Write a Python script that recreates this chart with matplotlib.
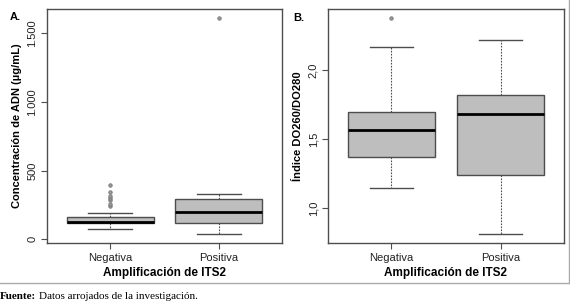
import matplotlib
matplotlib.use("Agg")
import matplotlib.pyplot as plt
from matplotlib.lines import Line2D

grupos = ["Negativa", "Positiva"]

# A. concentracion de ADN (ug/mL)
adn_min = [78, 36]
adn_q1 = [116, 116]
adn_med = [124, 197]
adn_q3 = [160, 291]
adn_max = [194, 333]
adn_atipicos = [[245, 260, 284, 301, 313, 344, 398], [1613]]
adn_ticks = [0, 500, 1000, 1500]
adn_ticklabels = ["0", "500", "1.000", "1.500"]

# B. indice DO260/DO280
ind_min = [1.148, 0.81]
ind_q1 = [1.372, 1.241]
ind_med = [1.567, 1.679]
ind_q3 = [1.696, 1.818]
ind_max = [2.168, 2.219]
ind_atipicos = [[2.377], []]
ind_ticks = [1.0, 1.5, 2.0]
ind_ticklabels = ["1,0", "1,5", "2,0"]

plt.rcParams['font.family'] = ['Liberation Sans', 'DejaVu Sans']
edge = "#4d4d4d"


def stats(mn, q1, med, q3, mx, out):
    res = []
    for i in range(len(grupos)):
        res.append(dict(label=grupos[i], whislo=mn[i], q1=q1[i], med=med[i],
                        q3=q3[i], whishi=mx[i], fliers=out[i]))
    return res


def panel(ax, st, ticks, ticklabels, ylabel):
    ax.bxp(st, positions=[1, 2], widths=0.8, patch_artist=True,
           boxprops=dict(facecolor="#bebebe", edgecolor=edge, linewidth=1.0),
           medianprops=dict(color="black", linewidth=2.0),
           whiskerprops=dict(color=edge, linewidth=0.8, linestyle=(0, (1.5, 1.2))),
           capprops=dict(color=edge, linewidth=1.0),
           flierprops=dict(marker="o", markersize=2.5, markerfacecolor="#999999",
                           markeredgecolor="#777777", markeredgewidth=0.6),
           capwidths=0.4)
    lo = min(min(v["whislo"] for v in st), min(min(v["fliers"], default=1e9) for v in st))
    hi = max(max(v["whishi"] for v in st), max(max(v["fliers"], default=-1e9) for v in st))
    ext = (hi - lo) * 0.04
    ax.set_ylim(lo - ext, hi + ext)
    ax.set_xlim(0.42, 2.58)
    ax.set_yticks(ticks)
    ax.set_yticklabels(ticklabels, rotation=90, va="center", fontsize=8, color="#222222")
    ax.set_xticks([1, 2])
    ax.set_xticklabels(grupos, fontsize=8, color="#222222")
    ax.tick_params(axis="both", direction="out", length=4, width=0.8, color=edge, pad=3)
    for s in ax.spines.values():
        s.set_color(edge)
        s.set_linewidth(1.0)
    ax.set_xlabel("Amplificación de ITS2", fontsize=8.5, fontweight="bold", labelpad=3)
    ax.set_ylabel(ylabel, fontsize=8, fontweight="bold", labelpad=4)


fig = plt.figure(figsize=(5.7, 3.03), dpi=100)
axA = fig.add_axes([0.0825, 0.198, 0.4122, 0.772])
axB = fig.add_axes([0.5754, 0.198, 0.4141, 0.772])

panel(axA, stats(adn_min, adn_q1, adn_med, adn_q3, adn_max, adn_atipicos),
      adn_ticks, adn_ticklabels, "Concentración de ADN (µg/mL)")
panel(axB, stats(ind_min, ind_q1, ind_med, ind_q3, ind_max, ind_atipicos),
      ind_ticks, ind_ticklabels, "Índice DO260/DO280")

fig.text(10 / 570, 1 - 17 / 303, "A.", fontsize=8, fontweight="bold", ha="left", va="center")
fig.text(293 / 570, 1 - 18 / 303, "B.", fontsize=8, fontweight="bold", ha="left", va="center")

# marco exterior (lineas inferior y derecha)
fig.add_artist(Line2D([0, 0.998], [0.066, 0.066], transform=fig.transFigure,
                      color="#aaaaaa", linewidth=1.0))
fig.add_artist(Line2D([0.998, 0.998], [0.066, 1.0], transform=fig.transFigure,
                      color="#aaaaaa", linewidth=1.0))

fig.text(0.0, 0.022, "Fuente:", fontsize=8, fontweight="bold",
         family=["Liberation Serif", "DejaVu Serif"], va="center")
fig.text(0.068, 0.022, "Datos arrojados de la investigación.", fontsize=8,
         family=["Liberation Serif", "DejaVu Serif"], va="center")

fig.savefig("out.png", dpi=100)
